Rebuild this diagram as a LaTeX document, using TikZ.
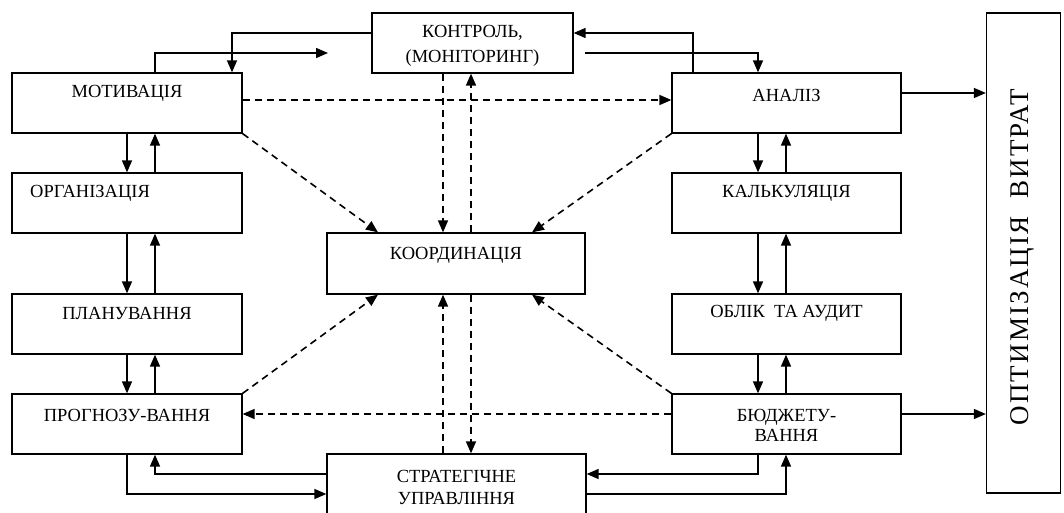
\documentclass[tikz,border=0pt]{standalone}
\usepackage{fontspec}
\setmainfont{Liberation Serif}
\usetikzlibrary{arrows.meta,calc}
\begin{document}
\begin{tikzpicture}[x=1pt,y=-1pt,
  box/.style={draw,line width=1.3pt,rectangle,inner sep=0pt},
  lbl/.style={inner sep=0pt,font=\fontsize{18.5}{22}\selectfont,align=center},
  conn/.style={line width=1.5pt,-{Triangle[length=12pt,width=10pt]}},
  dconn/.style={line width=1.6pt,dash pattern=on 7pt off 5pt,-{Triangle[length=12pt,width=10pt]}},
  sline/.style={line width=1.5pt}]
\useasboundingbox (0,0) rectangle (1064,513);
% boxes
\node[box,minimum width=230pt,minimum height=60pt] (mot) at (127,103) {};
\node[box,minimum width=230pt,minimum height=60pt] (org) at (127,203) {};
\node[box,minimum width=230pt,minimum height=60pt] (plan) at (127,324) {};
\node[box,minimum width=230pt,minimum height=60pt] (prog) at (127,424) {};
\node[box,minimum width=229pt,minimum height=60pt] (anal) at (786.5,103) {};
\node[box,minimum width=229pt,minimum height=60pt] (kalk) at (786.5,203) {};
\node[box,minimum width=229pt,minimum height=60pt] (obl) at (786.5,324) {};
\node[box,minimum width=229pt,minimum height=60pt] (budg) at (786.5,424) {};
\node[box,minimum width=201pt,minimum height=60pt] (kont) at (472.5,43) {};
\node[box,minimum width=258pt,minimum height=61pt] (koord) at (456,263.5) {};
\node[box,minimum width=259pt,minimum height=60pt] (strat) at (456.5,484) {};
\node[box,minimum width=74pt,minimum height=480pt] (opt) at (1023.5,253) {};
% labels
\node[lbl] (tmot) at (127,93) {МОТИВАЦІЯ};
\node[lbl,anchor=west] (torg) at (30,193) {ОРГАНІЗАЦІЯ};
\node[lbl] (tplan) at (127,313) {ПЛАНУВАННЯ};
\node[lbl] (tprog) at (127,415) {ПРОГНОЗУ-ВАННЯ};
\node[lbl] (tanal) at (786.5,95) {АНАЛІЗ};
\node[lbl] (tkalk) at (786.5,193) {КАЛЬКУЛЯЦІЯ};
\node[lbl] (tobl) at (786.5,313) {ОБЛІК\ \ ТА АУДИТ};
\node[lbl,font=\fontsize{18.5}{20}\selectfont] (tbudg) at (786.5,425) {БЮДЖЕТУ-\\ВАННЯ};
\node[lbl,font=\fontsize{18.5}{25}\selectfont] (tkont) at (472.5,45.5) {КОНТРОЛЬ,\\(МОНІТОРИНГ)};
\node[lbl] (tkoord) at (456,255) {КООРДИНАЦІЯ};
\node[lbl] (tstrat) at (456.5,487) {СТРАТЕГІЧНЕ\\УПРАВЛІННЯ};
\node[inner sep=0pt,rotate=90,font=\fontsize{27}{30}\selectfont\addfontfeature{LetterSpace=8}] (topt) at (1022,257) {ОПТИМІЗАЦІЯ\ \ ВИТРАТ};
% x coordinates
\coordinate (xl1) at (127,0);
\coordinate (xl2) at (155,0);
\coordinate (xr1) at (758,0);
\coordinate (xr2) at (786,0);
\coordinate (xc1) at (443,0);
\coordinate (xc2) at (471,0);
\coordinate (xk1) at (232,0);
\coordinate (xk2) at (693,0);
\coordinate (xdl) at (378,0);
\coordinate (xdr) at (532,0);
\coordinate (y1) at (0,33);
\coordinate (y3) at (0,474);
\coordinate (y4) at (0,494);
\coordinate (y5) at (0,100);
\coordinate (y6) at (0,414);
\coordinate (y7) at (0,93);
\coordinate (fa) at (328,53);
\coordinate (fb) at (585,53);
% vertical arrows left
\draw[conn] (mot.south -| xl1) -- (org.north -| xl1);
\draw[conn] (org.north -| xl2) -- (mot.south -| xl2);
\draw[conn] (org.south -| xl1) -- (plan.north -| xl1);
\draw[conn] (plan.north -| xl2) -- (org.south -| xl2);
\draw[conn] (plan.south -| xl1) -- (prog.north -| xl1);
\draw[conn] (prog.north -| xl2) -- (plan.south -| xl2);
% vertical arrows right
\draw[conn] (anal.south -| xr1) -- (kalk.north -| xr1);
\draw[conn] (kalk.north -| xr2) -- (anal.south -| xr2);
\draw[conn] (kalk.south -| xr1) -- (obl.north -| xr1);
\draw[conn] (obl.north -| xr2) -- (kalk.south -| xr2);
\draw[conn] (obl.south -| xr1) -- (budg.north -| xr1);
\draw[conn] (budg.north -| xr2) -- (obl.south -| xr2);
% top connections
\draw[conn] (kont.west |- y1) -| (mot.north -| xk1);
\draw[conn] (mot.north -| xl2) |- (fa);
\draw[conn] (anal.north -| xk2) |- (kont.east |- y1);
\draw[conn] (fb) -| (anal.north -| xr1);
% bottom connections
\draw[conn] (strat.west |- y3) -| (prog.south -| xl2);
\draw[conn] (prog.south -| xl1) |- (strat.west |- y4);
\draw[conn] (budg.south -| xr1) |- (strat.east |- y3);
\draw[conn] (strat.east |- y4) -| (budg.south -| xr2);
% to optimisation
\draw[conn] (anal.east |- y7) -- (opt.west |- y7);
\draw[conn] (budg.east |- y6) -- (opt.west |- y6);
% dashed
\draw[dconn] (mot.east |- y5) -- (anal.west |- y5);
\draw[dconn] (budg.west |- y6) -- (prog.east |- y6);
\draw[dconn] (kont.south -| xc1) -- (koord.north -| xc1);
\draw[dconn] (koord.north -| xc2) -- (kont.south -| xc2);
\draw[dconn] (strat.north -| xc1) -- (koord.south -| xc1);
\draw[dconn] (koord.south -| xc2) -- (strat.north -| xc2);
\draw[dconn] (mot.south east) -- (koord.north -| xdl);
\draw[dconn] (anal.south west) -- (koord.north -| xdr);
\draw[dconn] (prog.north east) -- (koord.south -| xdl);
\draw[dconn] (budg.north west) -- (koord.south -| xdr);
\end{tikzpicture}
\end{document}
